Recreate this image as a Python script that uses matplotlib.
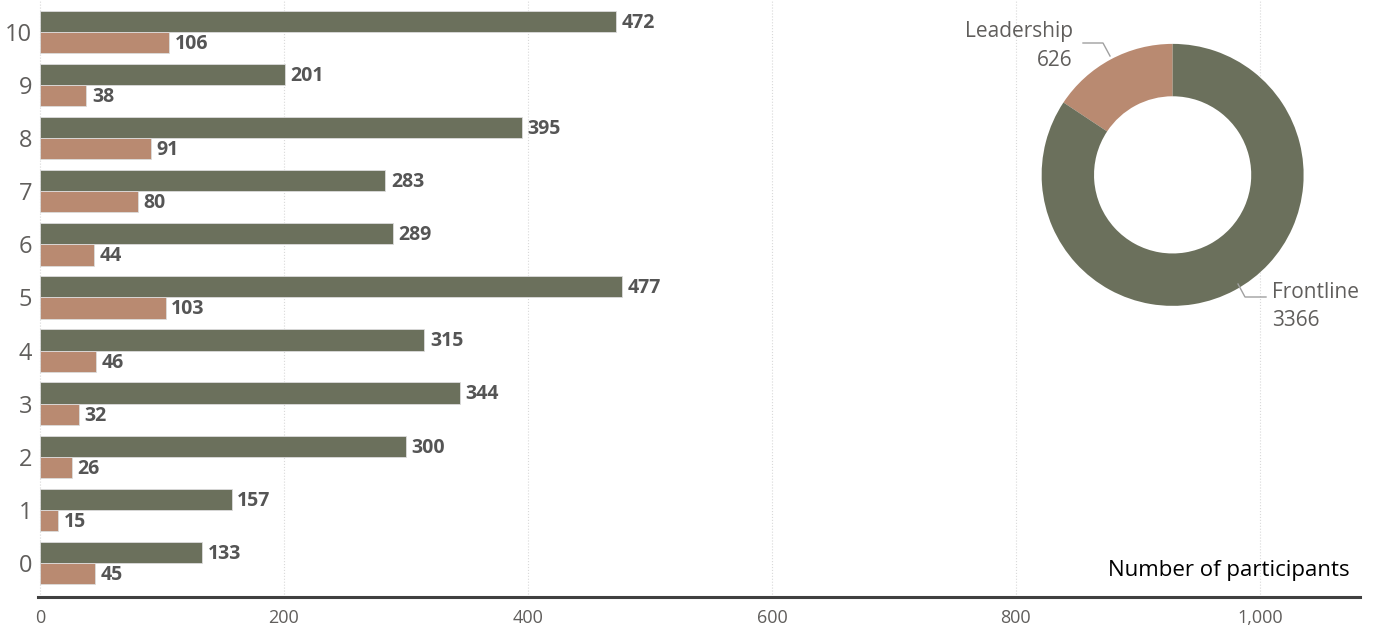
import numpy as np
import matplotlib.pyplot as plt
from matplotlib.ticker import FuncFormatter

# scores 0..10
scores = [0, 1, 2, 3, 4, 5, 6, 7, 8, 9, 10]
frontline = [133, 157, 300, 344, 315, 477, 289, 283, 395, 201, 472]
leadership = [45, 15, 26, 32, 46, 103, 44, 80, 91, 38, 106]
groups = ['Leadership', 'Frontline']
x_ticks = [0, 200, 400, 600, 800, 1000]

olive = '#6b705c'
salmon = '#b98a71'
label_grey = '#605e5c'

plt.rcParams['font.family'] = ['Open Sans', 'DejaVu Sans']

fig = plt.figure(figsize=(13.76, 6.32), dpi=100)
ax = fig.add_axes([0.0273, 0.0554, 0.961, 0.9446])

y = np.array(scores, dtype=float)
h = 0.4
bars_f = ax.barh(y + h / 2, frontline, height=h, color=olive, edgecolor='#dcdcdc', linewidth=0.6, zorder=2)
bars_l = ax.barh(y - h / 2, leadership, height=h, color=salmon, edgecolor='#dcdcdc', linewidth=0.6, zorder=2)

for bars in (bars_f, bars_l):
    for b in bars:
        w = b.get_width()
        ax.annotate(f'{int(w)}', (w, b.get_y() + b.get_height() / 2), xytext=(4, -1),
                    textcoords='offset points', va='center', ha='left',
                    fontsize=14, fontweight='bold', color='#555555')

ax.set_xlim(-2, 1082)
ax.set_ylim(-0.64, 10.6)
ax.set_xticks(x_ticks)
ax.xaxis.set_major_formatter(FuncFormatter(lambda v, p: f'{int(v):,}'))
ax.set_yticks(scores)
ax.set_yticklabels([str(s) for s in scores])
ax.tick_params(axis='y', length=0, labelsize=17, labelcolor=label_grey, pad=4)
ax.tick_params(axis='x', length=0, labelsize=13, labelcolor=label_grey, pad=9)
ax.grid(axis='x', color='#d9d9d9', linestyle=':', linewidth=0.8, zorder=0)
for s in ('top', 'right', 'left'):
    ax.spines[s].set_visible(False)
ax.spines['bottom'].set_color('#404040')
ax.spines['bottom'].set_linewidth(2.2)

ax.text(0.9925, 0.045, 'Number of participants', transform=ax.transAxes,
        ha='right', va='center', fontsize=16, color='black')

# donut of totals
totals = [sum(leadership), sum(frontline)]
dax = fig.add_axes([0.757, 0.516, 0.1904, 0.4146])
dax.pie(totals, colors=[salmon, olive], startangle=90, counterclock=True,
        radius=1, wedgeprops=dict(width=0.4, edgecolor='none'))
dax.set_xlim(-1, 1)
dax.set_ylim(-1, 1)
dax.set_aspect('equal')
dax.axis('off')

# leader lines and labels (drawn in figure pixels)
def fx(px):
    return px / 1376

def fy(py):
    return 1 - py / 632

fig.add_artist(plt.Line2D([fx(1083), fx(1103), fx(1110)], [fy(43), fy(43), fy(56)],
                          color='#a0a0a0', linewidth=1))
fig.add_artist(plt.Line2D([fx(1238), fx(1245), fx(1266)], [fy(284), fy(297), fy(297)],
                          color='#a0a0a0', linewidth=1))
fig.text(fx(1073), fy(31), groups[0], ha='right', va='center', fontsize=15, color=label_grey)
fig.text(fx(1073), fy(61), f'{totals[0]}', ha='right', va='center', fontsize=15, color=label_grey)
fig.text(fx(1272), fy(292), groups[1], ha='left', va='center', fontsize=15, color=label_grey)
fig.text(fx(1272), fy(321), f'{totals[1]}', ha='left', va='center', fontsize=15, color=label_grey)

fig.savefig('out.png', dpi=100)
